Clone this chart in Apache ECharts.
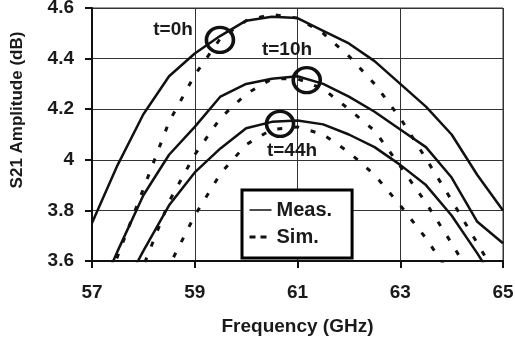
<!DOCTYPE html>
<html>
<head>
<meta charset="utf-8">
<title>S21 Amplitude vs Frequency</title>
<script src="https://cdn.jsdelivr.net/npm/echarts@6/dist/echarts.min.js"></script>
<style>
    html, body { margin: 0; padding: 0; background: #fff; }
    #s21-chart { width: 515px; height: 344px; }
</style>
</head>
<body>
<div id="s21-chart"></div>
<script>
// values (GHz / dB)
var freq = [57, 57.5, 58, 58.5, 59, 59.5, 60, 60.5, 61, 61.5, 62, 62.5, 63, 63.5, 64, 64.5, 65];
var meas0h  = [3.75, 3.98, 4.18, 4.33, 4.42, 4.49, 4.55, 4.565, 4.56, 4.51, 4.46, 4.39, 4.30, 4.21, 4.10, 3.94, 3.80];
var meas10h = [3.41, 3.64, 3.86, 4.02, 4.13, 4.25, 4.30, 4.32, 4.33, 4.30, 4.25, 4.19, 4.12, 4.05, 3.93, 3.755, 3.67];
var meas44h = [3.27, 3.45, 3.64, 3.82, 3.95, 4.045, 4.125, 4.15, 4.155, 4.14, 4.10, 4.05, 3.98, 3.90, 3.78, 3.63, 3.47];
var sim0h   = [3.36, 3.62, 3.885, 4.15, 4.335, 4.48, 4.55, 4.575, 4.56, 4.50, 4.41, 4.30, 4.165, 4.005, 3.84, 3.67, 3.50];
var sim10h  = [3.10, 3.35, 3.58, 3.835, 4.02, 4.165, 4.26, 4.32, 4.32, 4.28, 4.20, 4.115, 3.975, 3.83, 3.67, 3.50, 3.33];
var sim44h  = [2.95, 3.15, 3.38, 3.58, 3.78, 3.945, 4.06, 4.12, 4.13, 4.10, 4.03, 3.94, 3.82, 3.69, 3.54, 3.37, 3.20];
// circled points
var circleFreq = [59.49, 61.18, 60.66];
var circleAmp  = [4.474, 4.315, 4.142];

(function () {
    var font = "'Liberation Sans', Arial, sans-serif";
    var ink = "#111";
    var txt = "#1a1a1a";
    var f0 = freq[0]; // x axis runs 0..8 so ticks land on 57,59,...

    function pairs(vals) {
        return freq.map(function (f, i) { return [f - f0, vals[i]]; });
    }

    function measLine(vals) {
        return {
            name: "Meas.", type: "line", data: pairs(vals), symbol: "none",
            silent: true, z: 3, color: ink,
            itemStyle: { color: ink },
            lineStyle: { color: ink, width: 2.5 }
        };
    }

    function simLine(vals) {
        return {
            name: "Sim.", type: "line", data: pairs(vals), symbol: "none",
            silent: true, z: 3, color: ink,
            itemStyle: { color: ink },
            lineStyle: { color: ink, width: 3, type: [5, 12] }
        };
    }

    // 1. init
    var myChart = echarts.init(document.getElementById("s21-chart"));

    // 2. options
    var option = {
        backgroundColor: "#fff",
        animation: false,
        grid: {
            left: 92, right: 12, top: 8, bottom: 83,
            show: true, borderColor: "#333", borderWidth: 1,
            containLabel: false, outerBoundsMode: "none"
        },
        xAxis: {
            type: "value", min: 0, max: 8, interval: 2,
            name: "Frequency (GHz)", nameLocation: "middle", nameGap: 56,
            nameTextStyle: { fontFamily: font, fontWeight: "bold", fontSize: 19, color: txt },
            axisLine: { show: true, lineStyle: { color: ink, width: 2 } },
            axisTick: { show: true, inside: false, length: 7, lineStyle: { color: ink, width: 2 } },
            axisLabel: {
                margin: 22, fontFamily: font, fontWeight: "bold", fontSize: 19, color: txt,
                formatter: function (v) { return v + f0; }
            },
            splitLine: { show: true, lineStyle: { color: "#333", width: 1 } }
        },
        yAxis: {
            type: "value", min: 3.6, max: 4.6, interval: 0.2,
            axisLine: { show: true, lineStyle: { color: ink, width: 2 } },
            axisTick: { show: true, inside: false, length: 7, lineStyle: { color: ink, width: 2 } },
            axisLabel: { margin: 18, fontFamily: font, fontWeight: "bold", fontSize: 19, color: txt },
            splitLine: { show: true, lineStyle: { color: "#333", width: 1 } }
        },
        legend: {
            orient: "vertical", left: 242, top: 190,
            padding: [10, 20, 11, 6], itemGap: 7,
            itemWidth: 22, itemHeight: 12,
            backgroundColor: "#fff", borderColor: "#000", borderWidth: 3,
            selectedMode: false,
            itemStyle: { opacity: 0 },
            textStyle: { fontFamily: font, fontWeight: "bold", fontSize: 20, color: txt },
            data: [
                { name: "Meas.", itemStyle: { opacity: 0 }, lineStyle: { width: 1.5, color: ink } },
                { name: "Sim.", itemStyle: { opacity: 0 }, lineStyle: { width: 3, color: ink, type: [6, 5] } }
            ]
        },
        graphic: [
            {
                type: "text", x: 17, y: 110, rotation: Math.PI / 2,
                style: { text: "S21 Amplitude (dB)", font: "bold 17px " + font, fill: txt, align: "center", verticalAlign: "middle" }
            },
            {
                type: "text", x: 173, y: 30, z: 10,
                style: { text: "t=0h", font: "bold 19px " + font, fill: txt, align: "center", verticalAlign: "middle" }
            },
            {
                type: "text", x: 287, y: 50, z: 10,
                style: { text: "t=10h", font: "bold 19px " + font, fill: txt, align: "center", verticalAlign: "middle" }
            },
            {
                type: "text", x: 292, y: 151, z: 10,
                style: { text: "t=44h", font: "bold 19px " + font, fill: txt, align: "center", verticalAlign: "middle" }
            }
        ],
        series: [
            measLine(meas0h), measLine(meas10h), measLine(meas44h),
            simLine(sim0h), simLine(sim10h), simLine(sim44h),
            {
                name: "marks", type: "scatter", silent: true, z: 5,
                symbol: "circle", symbolSize: [27, 25],
                data: circleFreq.map(function (f, i) { return [f - f0, circleAmp[i]]; }),
                itemStyle: { color: "rgba(0,0,0,0)", borderColor: ink, borderWidth: 3.5, opacity: 1 }
            }
        ]
    };

    // 3. apply
    myChart.setOption(option);
    window.addEventListener("resize", function () {
        myChart.resize();
    });
})();
</script>
</body>
</html>
